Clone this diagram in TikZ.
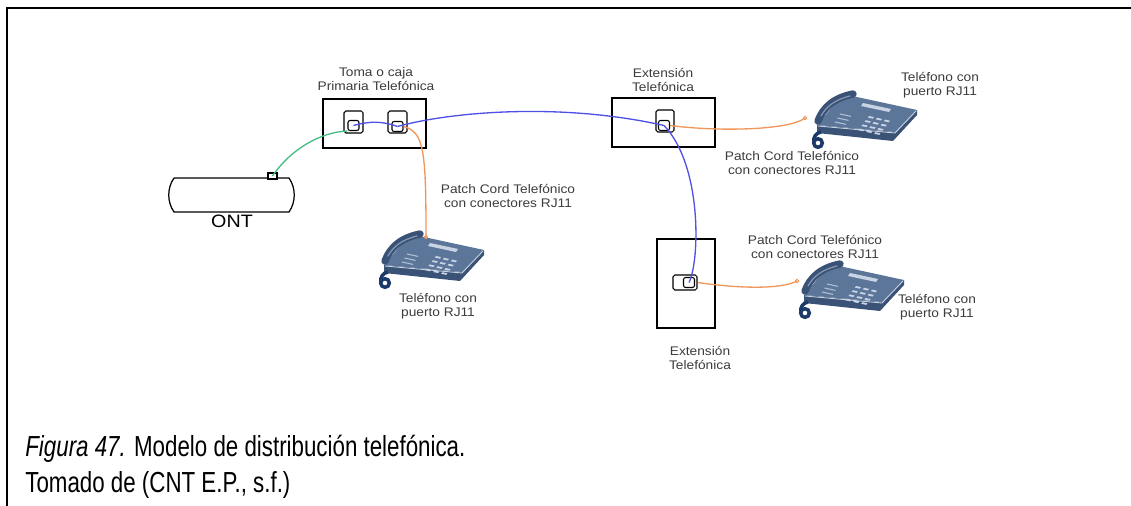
\documentclass[tikz,border=0pt]{standalone}
\usepackage{fontspec}
\setmainfont{Liberation Sans}
\newfontfamily\etiqfont[FakeStretch=1.1]{Liberation Sans}
\newfontfamily\piefont[FakeStretch=0.77]{Liberation Sans}

\definecolor{cableazul}{RGB}{80,80,230}
\definecolor{cablenaranja}{RGB}{240,150,90}
\definecolor{cableverde}{RGB}{70,190,130}
\definecolor{telcuerpo}{RGB}{92,118,154}
\definecolor{telsombra}{RGB}{58,82,118}
\definecolor{telclaro}{RGB}{200,212,228}
\definecolor{telcordon}{RGB}{28,58,105}
\definecolor{textogris}{RGB}{60,60,60}

\tikzset{
  caja/.style={draw, line width=0.8pt, inner sep=0pt},
  jack/.style={draw, line width=0.6pt, rounded corners=1pt, inner sep=0pt},
  socket/.style={draw, line width=0.6pt, rounded corners=1.2pt, inner sep=0pt,
    minimum width=0.22cm, minimum height=0.2cm},
  etiqueta/.style={font=\etiqfont\fontsize{7.1}{8.2}\selectfont, text=textogris,
    align=center, anchor=north, inner sep=0pt},
  cable/.style={line width=0.75pt},
  telefono/.pic={
    % cuerpo
    \fill[telsombra] (14,37) -- (92,44) -- (114,22) -- (114,27) -- (90,53) -- (14,45) -- cycle;
    \fill[telcuerpo] (14,37) -- (40,6) -- (114,22) -- (92,44) -- cycle;
    \draw[telclaro, line width=0.5pt] (15,38) -- (92,45) -- (113,23);
    % auricular
    \draw[telsombra, line width=4.2pt, line cap=round] (15,33) .. controls (20,20) and (30,10) .. (50,6);
    \draw[telcuerpo!75!white, line width=0.7pt, line cap=round] (18,28) .. controls (23,19) and (31,12) .. (47,8);
    % pantalla y teclas
    \fill[telclaro] (60,15) -- (88,21) -- (86,24) -- (58,18) -- cycle;
    \foreach \i in {0,1,2}
      \foreach \j in {0,1,2,3}
        \fill[telclaro] ({66+8*\i-3.2*\j},{28+1.8*\i+4.2*\j}) -- ++(5,1.1) -- ++(-1.2,1.6) -- ++(-5,-1.1) -- cycle;
    % rejilla
    \foreach \k in {0,1,2}
      \draw[telclaro!80!telcuerpo, line width=0.6pt] ({37-2.5*\k},{26+4*\k}) -- ++(11,2.4);
    % cordon
    \draw[telcordon, line width=2pt] (15,55) circle (0.086cm);
    \draw[telcordon, line width=2pt] (11,54) .. controls (10,49) and (13,45) .. (18,44);
  }
}

\begin{document}
\begin{tikzpicture}[x=0.02cm, y=-0.02cm]
  \useasboundingbox (0,0) rectangle (1131,506);
  % marco
  \draw[line width=1.1pt] (7,506) -- (7,8) -- (1131,8);

  % Cajas
  \node[caja, minimum width=2.06cm, minimum height=0.98cm] (prim) at (374.5,123.5) {};
  \node[caja, minimum width=2.06cm, minimum height=0.98cm] (ext1) at (663.5,122.5) {};
  \node[caja, minimum width=1.16cm, minimum height=1.78cm] (ext2) at (686,283.5) {};

  % Jacks
  \node[jack, minimum width=0.38cm, minimum height=0.44cm] (j1) at (353.5,122) {};
  \node[jack, minimum width=0.38cm, minimum height=0.44cm] (j2) at (397.5,122) {};
  \node[jack, minimum width=0.36cm, minimum height=0.44cm] (j3) at (665,121) {};
  \node[jack, minimum width=0.48cm, minimum height=0.3cm] (j4) at (685,282.5) {};
  \node[socket] (s1) at (353.5,125.5) {};
  \node[socket] (s2) at (397.5,126.5) {};
  \node[socket] (s3) at (664,125.5) {};
  \node[socket] (s4) at (689,282.5) {};

  % ONT
  \draw[line width=0.7pt] (174,178) -- (289,178) .. controls (296,188) and (296,202) .. (289,212)
    -- (174,212) .. controls (167,202) and (167,188) .. (174,178);
  \node[draw, line width=0.6pt, fill=white, inner sep=0pt, minimum width=0.18cm,
    minimum height=0.12cm] (ontjack) at (272.5,176) {};
  \node[font=\etiqfont\fontsize{10.2}{12}\selectfont, anchor=north, inner sep=0pt] (ont) at (232,215) {ONT};

  % Telefonos
  \pic at (370,228) {telefono};
  \pic at (803,88) {telefono};
  \pic at (790,258) {telefono};
  \coordinate (tel1) at (426,237);
  \coordinate (tel2) at (805,118);
  \coordinate (tel3) at (797,281);

  % Cables
  \draw[cable, cableverde] (ontjack.center) .. controls (290,150) and (320,132) .. (s1.south west);
  \draw[cable, cableazul] (s1.center) .. controls (370,121) and (382,121) .. (s2.center);
  \draw[cable, cableazul] (s2.center) .. controls (450,112) and (560,102) .. (s3.center);
  \draw[cable, cableazul] (s3.center) .. controls (702,165) and (700,260) .. (s4.center);
  \draw[cable, cablenaranja] (s2.east) .. controls (424,132) and (426,150) .. (tel1);
  \draw[cable, cablenaranja] (s3.east) .. controls (720,132) and (790,130) .. (tel2);
  \draw[cable, cablenaranja] (j4.east) .. controls (735,288) and (780,290) .. (tel3);
  \foreach \p in {tel1,tel2,tel3}
    \draw[cablenaranja, line width=0.5pt] (\p) circle (0.035cm);

  % Etiquetas
  \node[etiqueta] (lprim) at (376,67) {Toma o caja\\Primaria Telefónica};
  \node[etiqueta] (lext1) at (663,68) {Extensión\\Telefónica};
  \node[etiqueta] (ltel2) at (940,72) {Teléfono con\\puerto RJ11};
  \node[etiqueta] (lpatch2) at (792,151) {Patch Cord Telefónico\\con conectores RJ11};
  \node[etiqueta] (lpatch1) at (508,184) {Patch Cord Telefónico\\con conectores RJ11};
  \node[etiqueta] (lpatch3) at (815,235) {Patch Cord Telefónico\\con conectores RJ11};
  \node[etiqueta] (ltel1) at (438,293) {Teléfono con\\puerto RJ11};
  \node[etiqueta] (ltel3) at (937,294) {Teléfono con\\puerto RJ11};
  \node[etiqueta] (lext2) at (700,346) {Extensión\\Telefónica};

  % Pie de figura
  \node[anchor=north west, inner sep=0pt, align=left,
    font=\piefont\fontsize{16.5}{20.5}\selectfont] (pie) at (25,435)
    {\textit{Figura 47.} Modelo de distribución telefónica.\\Tomado de (CNT E.P., s.f.)};
\end{tikzpicture}
\end{document}
